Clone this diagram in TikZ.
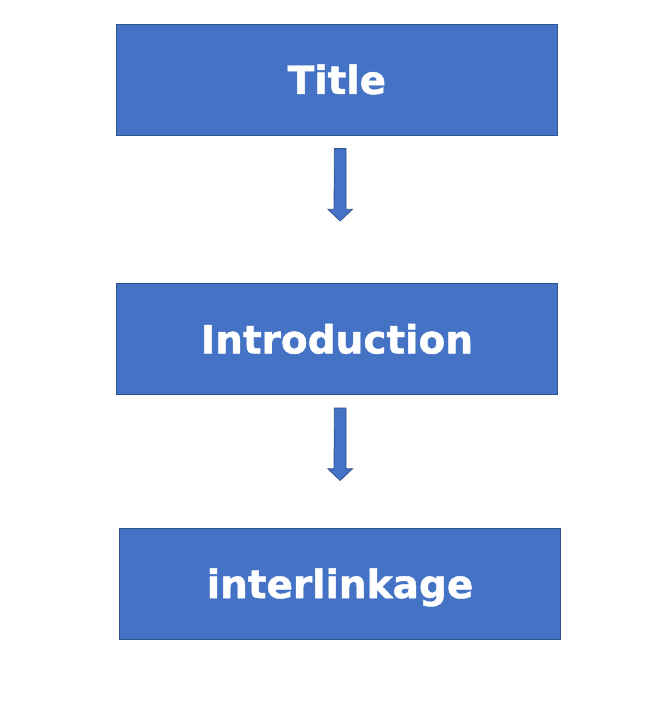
\documentclass[tikz,border=0pt]{standalone}
\usepackage{fontspec}
\setmainfont{DejaVu Sans}[BoldFeatures={FakeBold=1.2}]
\definecolor{boxblue}{HTML}{4472C4}
\definecolor{boxedge}{HTML}{2F528F}
\tikzset{
  stepbox/.style={draw=boxedge,fill=boxblue,line width=1pt,minimum width=441.5pt,minimum height=110.7pt,
    text=white,font=\bfseries\fontsize{39}{39}\selectfont,text height=28.5pt,text depth=0pt,inner sep=0pt},
  blockarrow/.style={draw=boxedge,fill=boxblue,line width=0.8pt,line join=miter}
}
\begin{document}
\begin{tikzpicture}[x=1pt,y=-1pt]
    \useasboundingbox (0,0) rectangle (672,715);
    \node[stepbox] (title) at (336.9,79.7) {Title};
    \node[stepbox] (intro) at (336.9,339.2) {Introduction};
    \node[stepbox] (link) at (340,583.8) {interlinkage};
    % block arrows below the first two boxes
    \foreach \b in {title,intro}
        \draw[blockarrow] (\b.south) ++(-2.55,13) -- ++(11.7,0) -- ++(0,60.7) -- ++(6.4,0)
            -- ++(-12.3,11.7) -- ++(-12.3,-11.7) -- ++(6.2,0) -- cycle;
\end{tikzpicture}
\end{document}
